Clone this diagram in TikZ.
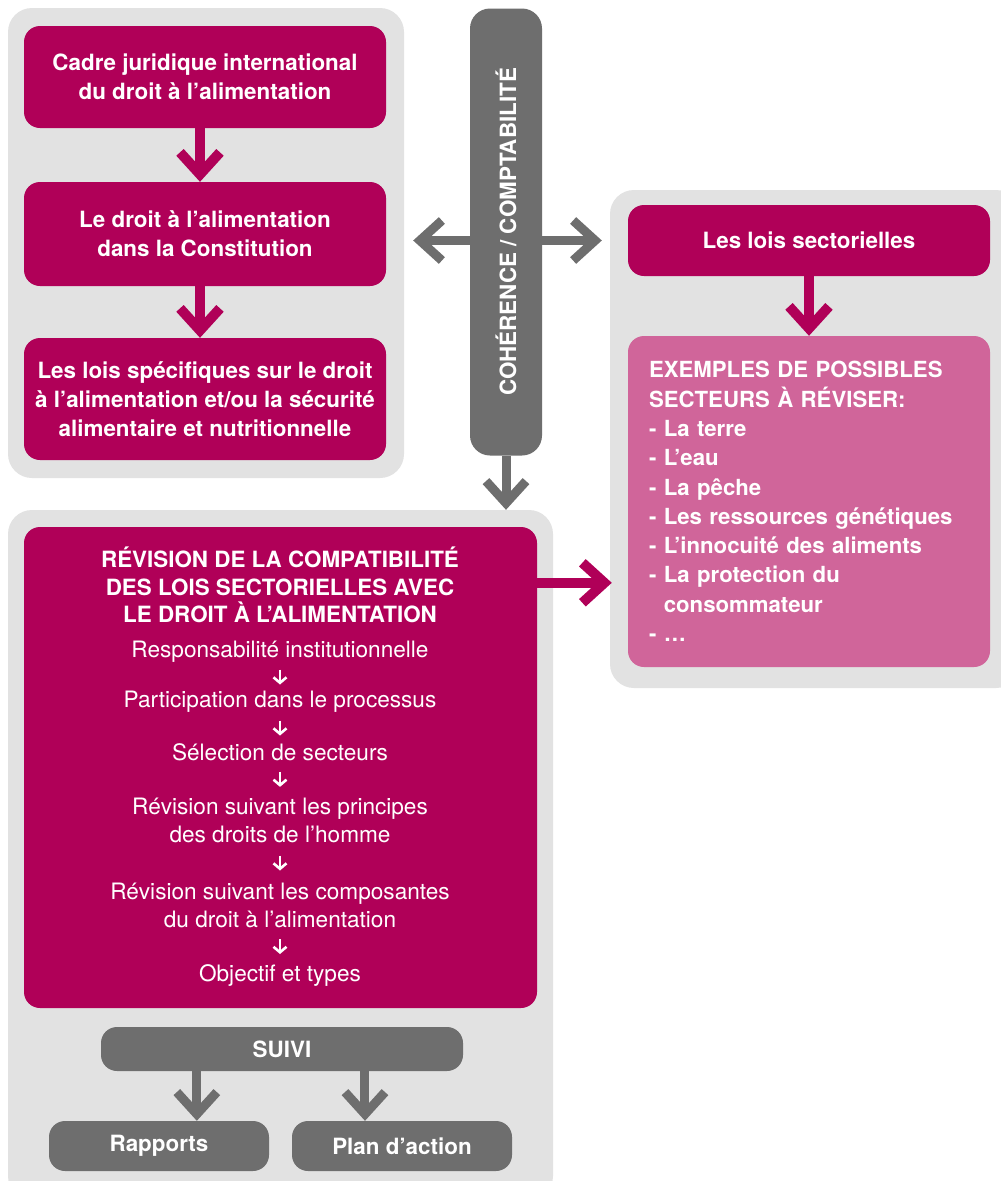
\documentclass[tikz,border=0pt]{standalone}
\usepackage{fontspec}
\setmainfont{TeX Gyre Heros}
\usetikzlibrary{arrows.meta,calc}
\definecolor{mag}{HTML}{B00058}
\definecolor{pinkb}{HTML}{D0659A}
\definecolor{dgray}{HTML}{6E6E6E}
\definecolor{panelgray}{HTML}{E2E2E2}
\tikzset{
  panel/.style={fill=panelgray, rounded corners=24, inner sep=0},
  box/.style={fill=mag, text=white, rounded corners=16, inner sep=0, align=center,
    font=\bfseries\fontsize{22.4}{29}\selectfont},
  gbox/.style={fill=dgray, text=white, rounded corners=16, inner sep=0, align=center,
    font=\bfseries\fontsize{22.4}{29}\selectfont},
  pinkbox/.style={fill=pinkb, text=white, rounded corners=16, inner ysep=0, inner xsep=21,
    align=left, text width=320, font=\bfseries\fontsize{22.2}{29.3}\selectfont},
  ttl/.style={text=white, inner sep=0, align=center, font=\bfseries\fontsize{22.4}{27.5}\selectfont},
  item/.style={text=white, inner sep=0, align=center, font=\fontsize{22.6}{28}\selectfont},
  magarr/.style={draw=mag, line width=10, -{Straight Barb[length=22,width=40,line join=miter]}},
  grayarr/.style={draw=dgray, line width=9, -{Straight Barb[length=22,width=40,line join=miter]}},
  graydbl/.style={draw=dgray, line width=9, {Straight Barb[length=22,width=40,line join=miter]}-{Straight Barb[length=22,width=40,line join=miter]}},
  whitearr/.style={draw=white, line width=2.6, -{Straight Barb[length=5.5,width=13]},
    to path={($(\tikztostart)!0.5!(\tikztotarget)+(0,-7.5)$) -- ($(\tikztostart)!0.5!(\tikztotarget)+(0,7.5)$)}},
}
\begin{document}
\begin{tikzpicture}[x=1pt,y=-1pt]
\useasboundingbox[fill=white] (0,0) rectangle (1001,1181);
% panels
\node[panel, minimum width=396, minimum height=470] (lp) at (206,243) {};
\node[panel, minimum width=410, minimum height=498] (rp) at (815,439) {};
\node[panel, minimum width=545, minimum height=690] (bp) at (280.5,855) {};
% left column
\node[box, minimum width=362, minimum height=102] (b1) at (205,77) {Cadre juridique international\\du droit à l’alimentation};
\node[box, minimum width=362, minimum height=104] (b2) at (205,234) {Le droit à l’alimentation\\dans la Constitution};
\node[box, minimum width=362, minimum height=122] (b3) at (205,399) {Les lois spécifiques sur le droit\\à l’alimentation et/ou la sécurité\\alimentaire et nutritionnelle};
\draw[magarr] ([xshift=-5]b1.south) -- ([xshift=-5]b2.north);
\draw[magarr] ([xshift=-5]b2.south) -- ([xshift=-5]b3.north);
% right column
\node[box, minimum width=362, minimum height=71] (laws) at (809,240.5) {Les lois sectorielles};
\node[pinkbox, minimum height=331] (pk) at (809,501.5) {EXEMPLES DE POSSIBLES\\SECTEURS À RÉVISER:\\- La terre\\- L’eau\\- La pêche\\- Les ressources génétiques\\- L’innocuité des aliments\\- La protection du\\\hphantom{- }consommateur\\- …};
\draw[magarr] (laws.south) -- (pk.north);
% coherence bar
\draw[graydbl, shorten <=9, shorten >=8] (lp.east |- laws) -- (rp.west |- laws);
\node[gbox, rotate=90, minimum width=447, minimum height=72, rounded corners=20] (bar) at (506,232) {COHÉRENCE / COMPTABILITÉ};
\draw[grayarr] (bar.west) -- (bar.west |- bp.north);
% revision box
\node[box, minimum width=513, minimum height=481] (rev) at (280.5,767.5) {};
\node[ttl] (revt) at (280,585) {RÉVISION DE LA COMPATIBILITÉ\\DES LOIS SECTORIELLES AVEC\\LE DROIT À L’ALIMENTATION};
\node[item] (i1) at (280,652) {Responsabilité institutionnelle};
\node[item] (i2) at (280,702) {Participation dans le processus};
\node[item] (i3) at (280,752) {Sélection de secteurs};
\node[item] (i4) at (280,820.5) {Révision suivant les principes\\des droits de l’homme};
\node[item] (i5) at (280,905.5) {Révision suivant les composantes\\du droit à l’alimentation};
\node[item] (i6) at (280,976) {Objectif et types};
\draw[whitearr] (i1.south) to (i2.north);
\draw[whitearr] (i2.south) to (i3.north);
\draw[whitearr] (i3.south) to (i4.north);
\draw[whitearr] (i4.south) to (i5.north);
\draw[whitearr] (i5.south) to (i6.north);
\coordinate (ra) at ($(rev.north east)+(0,56)$);
\draw[magarr, shorten >=-2] (ra) -- (ra -| rp.west);
% suivi
\node[gbox, minimum width=362, minimum height=44] (suivi) at (282,1049) {SUIVI};
\node[gbox, minimum width=220, minimum height=50] (rap) at (159,1146) {Rapports};
\node[gbox, minimum width=220, minimum height=50] (plan) at (402,1146) {Plan d’action};
\coordinate (s1) at ($(suivi.south west)!0.265!(suivi.south east)$);
\coordinate (s2) at ($(suivi.south west)!0.729!(suivi.south east)$);
\draw[grayarr] (s1) -- (s1 |- rap.north);
\draw[grayarr] (s2) -- (s2 |- plan.north);
\end{tikzpicture}
\end{document}
